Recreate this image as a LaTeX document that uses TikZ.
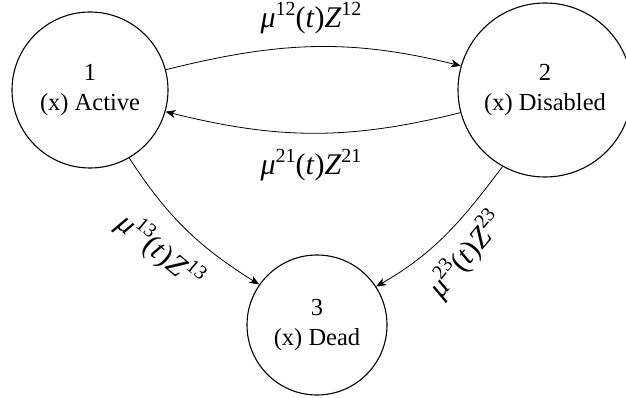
\documentclass[tikz,border=0pt]{standalone}
\usepackage{fontspec}
\setmainfont{Liberation Serif}
\usetikzlibrary{arrows.meta}
\newcommand\supnum[1]{\raisebox{0.42em}{\fontsize{20}{20}\selectfont #1}}
\newcommand\ratelab[2]{{\itshape μ}\supnum{#1}(\textit{t})\textit{Z}\supnum{#2}}
\tikzset{
  state/.style={circle, draw, line width=1.1pt, inner sep=0pt, align=center,
    font=\fontsize{24.5}{30}\selectfont},
  arr/.style={-{Stealth[length=10pt,width=8pt,inset=3pt]}, line width=0.8pt},
  lab/.style={font=\fontsize{30}{32}\selectfont, inner sep=0pt}
}
\begin{document}
\begin{tikzpicture}[x=1pt,y=-1pt]
\useasboundingbox (0,0) rectangle (626,398);
\node[state, minimum size=156pt] (n1) at (90,90) {1\\(x) Active};
\node[state, minimum size=174pt] (n2) at (545,90) {2\\(x) Disabled};
\node[state, minimum size=140pt] (n3) at (317,325) {3\\(x) Dead};
\draw[arr] (n1.15) to[out=14, in=166] (n2.164);
\draw[arr] (n2.195) to[out=194, in=-14] (n1.344);
\draw[arr] (n1.-60) to[out=-57, in=148] (n3.145);
\draw[arr] (n2.-119) to[out=-127, in=30] (n3.33);
\node[lab] (l12) at (311,18) {\ratelab{12}{12}};
\node[lab] (l21) at (311,165) {\ratelab{21}{21}};
\node[lab, rotate=-40] (l13) at (160,251) {\ratelab{13}{13}};
\node[lab, rotate=50] (l23) at (466,255) {\ratelab{23}{23}};
\end{tikzpicture}
\end{document}
